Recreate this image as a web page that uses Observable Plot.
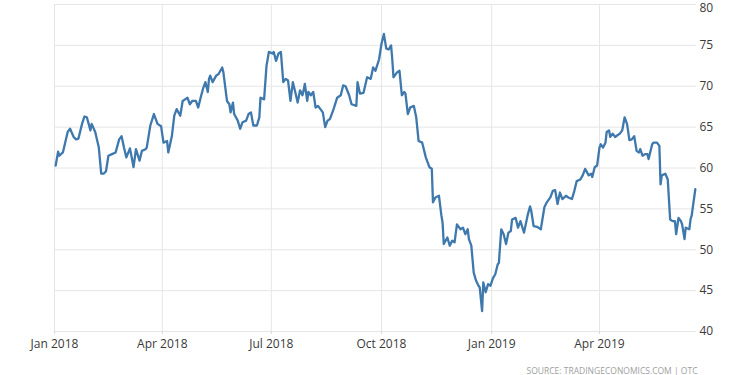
<!DOCTYPE html>
<html><head><meta charset="utf-8">
<script src="https://cdn.jsdelivr.net/npm/d3@7"></script>
<script src="https://cdn.jsdelivr.net/npm/@observablehq/plot@0.6"></script>
<style>body{margin:0;background:#fff}</style>
</head><body><div id="chart"></div>
<script>
const dates2018 = ["2018-01-02","2018-01-04","2018-01-05","2018-01-08","2018-01-12","2018-01-14","2018-01-17","2018-01-19","2018-01-21","2018-01-24","2018-01-26","2018-01-28","2018-01-31",
"2018-02-01","2018-02-04","2018-02-07","2018-02-09","2018-02-11","2018-02-13","2018-02-15","2018-02-18","2018-02-21","2018-02-24","2018-02-26","2018-02-28",
"2018-03-02","2018-03-05","2018-03-08","2018-03-10","2018-03-13","2018-03-15","2018-03-18","2018-03-19","2018-03-22","2018-03-25","2018-03-28","2018-03-31",
"2018-04-02","2018-04-05","2018-04-06","2018-04-09","2018-04-11","2018-04-13","2018-04-16","2018-04-18","2018-04-20","2018-04-22","2018-04-24","2018-04-26","2018-04-29",
"2018-05-01","2018-05-03","2018-05-05","2018-05-07","2018-05-09","2018-05-10","2018-05-11","2018-05-13","2018-05-16","2018-05-18","2018-05-21","2018-05-22","2018-05-25","2018-05-27","2018-05-28","2018-05-30","2018-05-31",
"2018-06-03","2018-06-05","2018-06-07","2018-06-10","2018-06-12","2018-06-14","2018-06-16","2018-06-19","2018-06-21","2018-06-22","2018-06-25","2018-06-27","2018-06-29",
"2018-07-02","2018-07-03","2018-07-05","2018-07-07","2018-07-09","2018-07-11","2018-07-13","2018-07-15","2018-07-17","2018-07-19","2018-07-21","2018-07-23","2018-07-25","2018-07-27","2018-07-28","2018-07-29","2018-07-31",
"2018-08-01","2018-08-03","2018-08-05","2018-08-07","2018-08-09","2018-08-11","2018-08-13","2018-08-15","2018-08-17","2018-08-19","2018-08-22","2018-08-25","2018-08-28","2018-08-30",
"2018-09-01","2018-09-04","2018-09-06","2018-09-10","2018-09-11","2018-09-13","2018-09-16","2018-09-19","2018-09-22","2018-09-24","2018-09-26","2018-09-29",
"2018-10-01","2018-10-03","2018-10-05","2018-10-07","2018-10-09","2018-10-10","2018-10-11","2018-10-14","2018-10-16","2018-10-18","2018-10-20","2018-10-21","2018-10-23","2018-10-25","2018-10-28","2018-10-30",
"2018-11-01","2018-11-04","2018-11-07","2018-11-10","2018-11-12","2018-11-13","2018-11-15","2018-11-18","2018-11-20","2018-11-21","2018-11-22","2018-11-25","2018-11-27","2018-11-29",
"2018-12-01","2018-12-03","2018-12-06","2018-12-08","2018-12-10","2018-12-12","2018-12-13","2018-12-15","2018-12-17","2018-12-19","2018-12-21","2018-12-22","2018-12-24","2018-12-25","2018-12-27","2018-12-29","2018-12-31"];
const prices2018 = [60.3,62.0,61.5,61.9,64.4,64.8,63.8,63.5,63.6,65.4,66.3,66.2,64.6,
65.4,64.4,62.5,59.3,59.3,59.6,61.5,61.7,61.9,63.5,63.9,62.5,
61.3,62.4,60.1,62.3,60.9,62.1,62.3,62.5,65.2,66.6,65.4,65.1,
63.1,63.3,61.9,63.9,66.4,67.2,66.4,68.2,68.4,68.6,67.8,68.2,68.2,
67.4,68.6,69.7,70.5,69.3,70.9,71.3,70.5,71.3,71.5,72.3,71.7,68.2,67.8,66.8,68.0,66.6,
65.8,64.8,65.6,65.8,66.6,66.8,65.2,65.2,66.2,68.6,68.4,72.5,74.2,
74.0,74.2,73.1,74.0,74.2,70.5,70.9,70.7,68.2,70.5,69.3,68.0,69.5,68.9,69.5,70.3,68.2,
69.3,68.9,69.3,67.4,67.6,67.2,66.8,65.0,65.8,66.0,67.2,68.6,68.9,70.1,
70.0,68.9,67.8,67.6,70.5,69.1,69.2,71.1,70.9,72.3,71.9,73.3,
75.2,76.4,74.6,74.5,75.0,73.3,71.1,71.7,71.9,68.9,69.3,69.1,66.6,67.4,67.6,66.2,
63.3,63.1,61.3,60.1,59.9,55.8,56.4,56.6,54.2,53.3,50.7,51.5,50.5,51.1,
50.9,53.1,52.5,52.7,51.9,52.5,51.3,50.5,47.2,46.2,45.6,45.4,42.5,46.0,44.8,45.8,45.6];
const dates2019 = ["2019-01-02","2019-01-04","2019-01-06","2019-01-07","2019-01-09","2019-01-11","2019-01-13","2019-01-15","2019-01-17","2019-01-18","2019-01-21","2019-01-23","2019-01-25","2019-01-28","2019-01-31",
"2019-02-02","2019-02-03","2019-02-05","2019-02-08","2019-02-11","2019-02-14","2019-02-16","2019-02-19","2019-02-21","2019-02-23","2019-02-25","2019-02-27",
"2019-03-01","2019-03-04","2019-03-06","2019-03-09","2019-03-11","2019-03-13","2019-03-16","2019-03-18","2019-03-20","2019-03-23","2019-03-25","2019-03-26","2019-03-28","2019-03-30",
"2019-04-01","2019-04-02","2019-04-04","2019-04-06","2019-04-07","2019-04-09","2019-04-10","2019-04-12","2019-04-14","2019-04-16","2019-04-18","2019-04-20","2019-04-22","2019-04-24","2019-04-26","2019-04-28","2019-04-30",
"2019-05-02","2019-05-04","2019-05-05","2019-05-07","2019-05-09","2019-05-11","2019-05-12","2019-05-15","2019-05-16","2019-05-19","2019-05-21","2019-05-22","2019-05-23","2019-05-26","2019-05-28","2019-05-30",
"2019-06-01","2019-06-03","2019-06-04","2019-06-06","2019-06-08","2019-06-09","2019-06-11","2019-06-12","2019-06-15","2019-06-16","2019-06-17","2019-06-20"];
const prices2019 = [46.5,47.0,48.2,48.4,52.5,51.9,50.7,52.1,52.3,53.7,53.9,52.7,53.5,52.1,54.2,
55.3,54.8,52.9,52.8,52.5,55.2,55.8,56.4,57.2,57.3,55.6,57.0,
56.2,56.6,56.4,56.2,57.2,58.4,58.6,59.1,59.9,59.1,59.3,58.9,60.1,60.3,
62.5,62.9,62.5,63.1,64.4,64.6,63.8,64.2,63.8,64.0,64.2,64.6,66.2,65.4,63.4,63.5,63.9,
62.1,61.9,62.3,61.5,61.7,61.7,61.1,62.9,63.1,63.1,62.7,58.0,59.1,59.3,58.6,53.7,
53.5,53.5,51.9,53.9,53.5,53.1,51.3,52.7,52.5,53.7,54.2,57.4];
const xTicks = ["2018-01-01","2018-04-01","2018-07-01","2018-10-01","2019-01-01","2019-04-01"];
const yTicks = [40,45,50,55,60,65,70,75];
const yTopTick = [80];
const xDomain = ["2018-01-01","2019-06-21"];
const source = "SOURCE: TRADINGECONOMICS.COM | OTC";

const allDates = dates2018.concat(dates2019);
const allPrices = prices2018.concat(prices2019);
const data = allDates.map((d, i) => ({date: new Date(d), price: allPrices[i]}));
const tickDates = xTicks.map(d => new Date(d));

const chart = Plot.plot({
  width: 750,
  height: 375,
  marginLeft: 54,
  marginRight: 54,
  marginTop: 4,
  marginBottom: 44,
  style: {fontFamily: "'Open Sans', sans-serif", fontSize: "12px", background: "#fff", color: "#3a3a3a"},
  x: {type: "utc", domain: xDomain.map(d => new Date(d))},
  y: {domain: [40, 80]},
  marks: [
    Plot.gridX(tickDates, {stroke: "#e6e6e6", strokeOpacity: 1}),
    Plot.gridY(yTicks.concat(yTopTick), {stroke: "#e6e6e6", strokeOpacity: 1}),
    Plot.axisX(tickDates, {tickSize: 3, tickPadding: 5, stroke: "#d8d8d8", fill: "#3a3a3a", tickFormat: d3.utcFormat("%b %Y"), label: null, fontSize: 12}),
    Plot.axisY(yTicks, {anchor: "right", tickSize: 0, tickPadding: 3, fill: "#3a3a3a", label: null, fontSize: 12}),
    Plot.axisY(yTopTick, {anchor: "right", tickSize: 0, tickPadding: 3, fill: "#3a3a3a", label: null, fontSize: 12, dy: 4}),
    Plot.line(data, {x: "date", y: "price", stroke: "#3e78ad", strokeWidth: 2.3, strokeLinejoin: "round"}),
    Plot.text([source], {text: d => d, frameAnchor: "bottom-right", dy: 42, dx: 1, fontSize: 8.5, fill: "#a0a0a0", textAnchor: "end"})
  ]
});
document.getElementById("chart").appendChild(chart);
</script>
</body></html>
